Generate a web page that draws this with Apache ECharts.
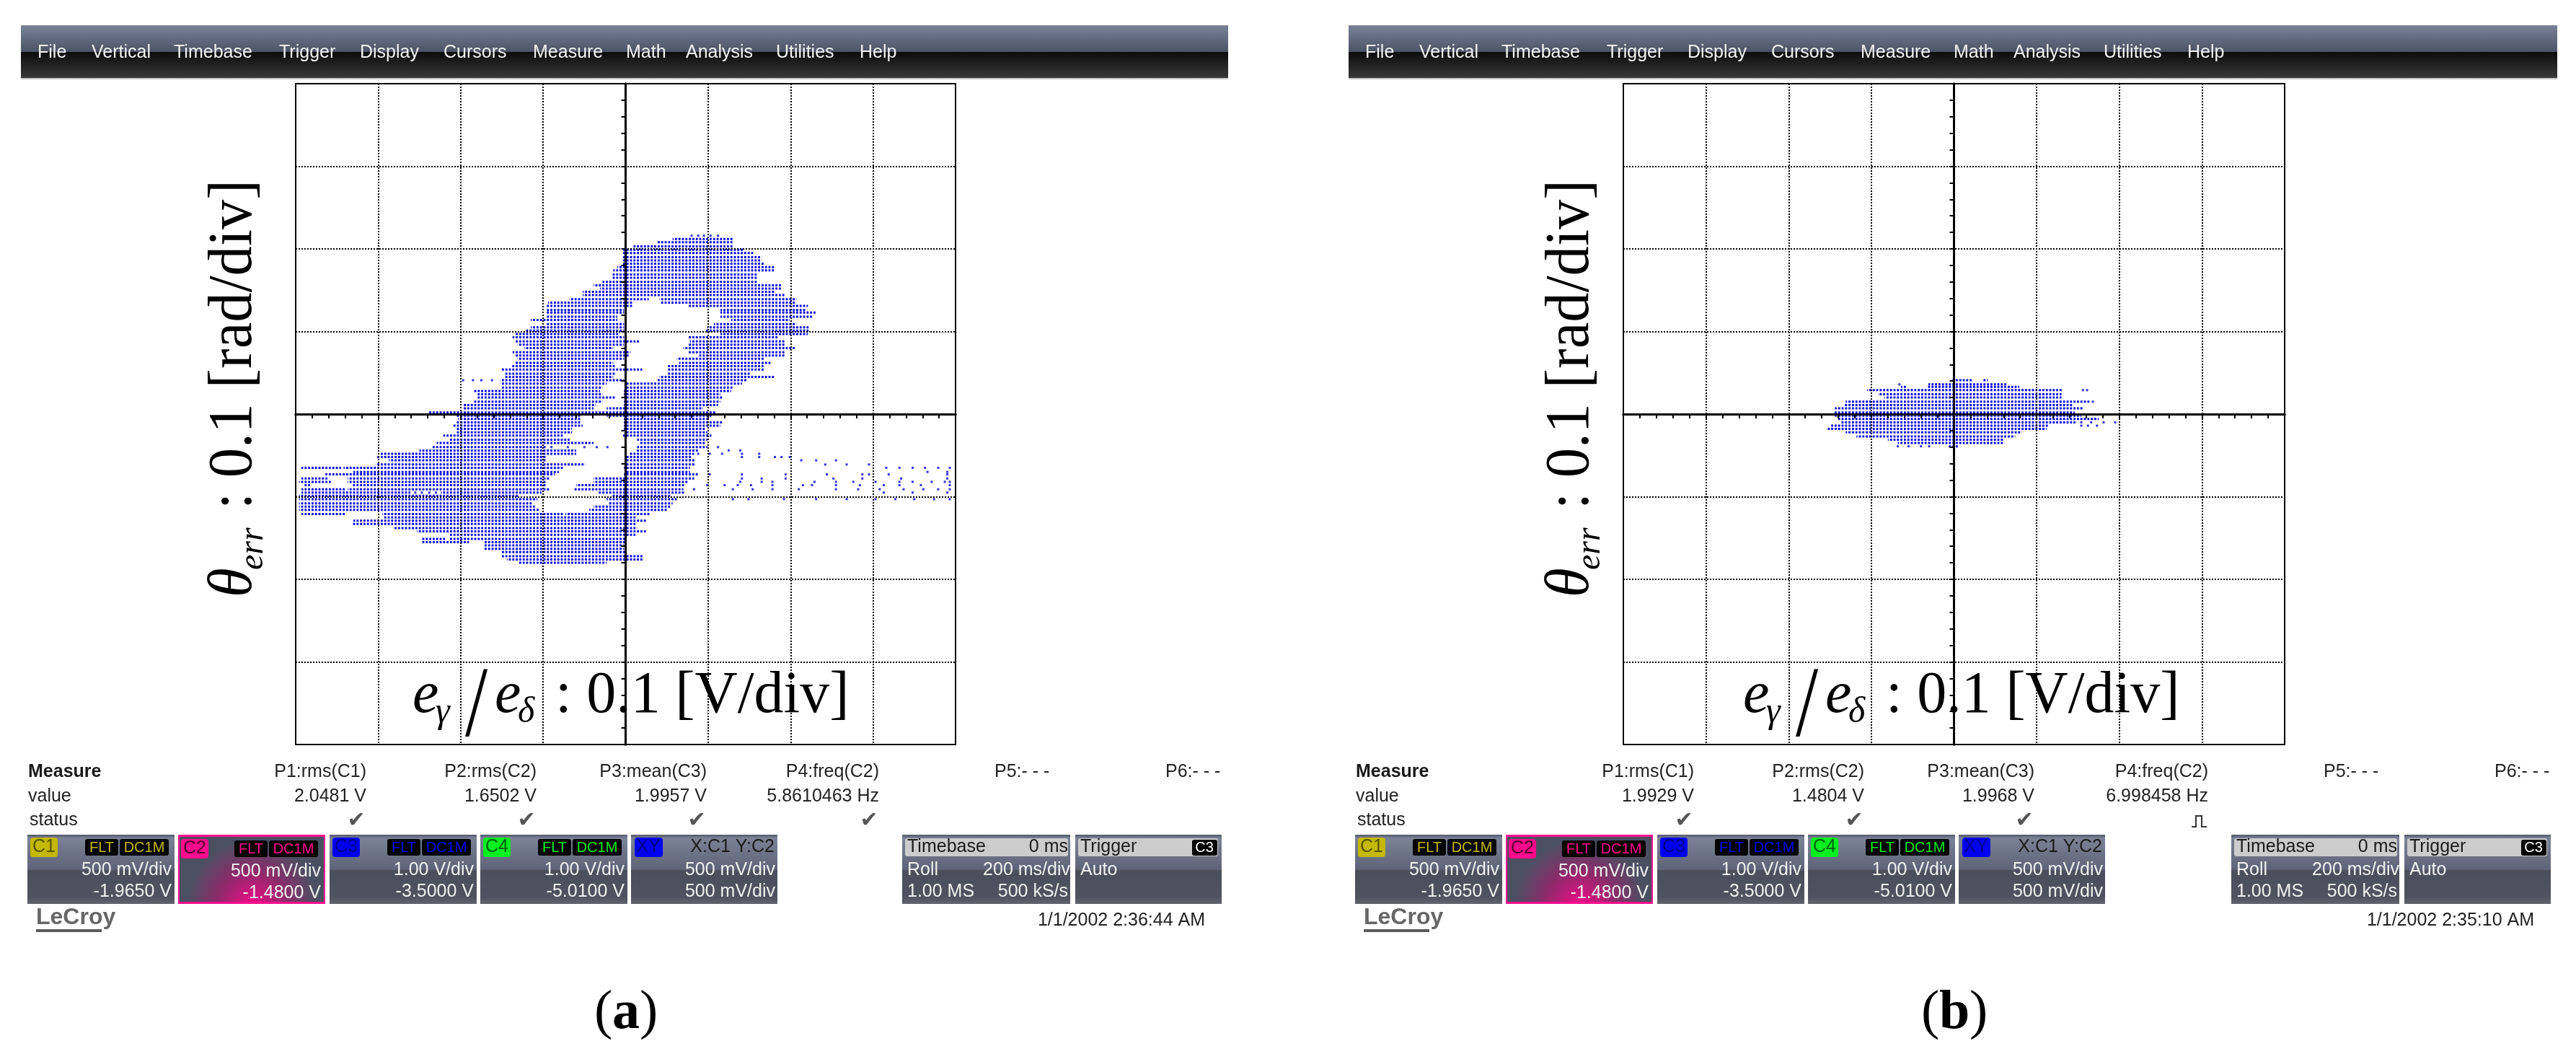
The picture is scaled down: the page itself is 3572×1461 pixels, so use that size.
<!DOCTYPE html>
<html>
<head>
<meta charset="utf-8">
<style>
html, body { margin: 0; padding: 0; background: #fff; }
#main { width: 3572px; height: 1461px; }
</style>
<script src="https://cdn.jsdelivr.net/npm/echarts@6/dist/echarts.min.js"></script>
</head>
<body>
<div id="main"></div>
<script>
// filled rows of the X-Y trace, [y, xStart, xEnd] in divisions
var rowsA = [
    [2.12, 0.57, 1.31], [2.08, 0.38, 1.31], [2.03, 0.09, 1.31], [1.99, -0.04, 1.44], [1.95, -0.04, 1.56],
    [1.90, -0.04, 1.65], [1.86, -0.04, 1.65], [1.82, -0.04, 1.69], [1.78, -0.10, 1.81], [1.74, -0.15, 1.81],
    [1.69, -0.16, 1.60], [1.65, -0.17, 1.60], [1.60, -0.28, 1.60], [1.56, -0.39, 1.89], [1.52, -0.31, 1.89],
    [1.48, -0.52, 1.81], [1.44, -0.52, 1.94], [1.39, -0.68, 0.28], [1.39, 0.41, 2.07], [1.35, -0.94, 0.09],
    [1.35, 0.43, 2.07], [1.31, -0.97, 0.09], [1.31, 0.75, 2.21], [1.26, -0.97, -0.02], [1.26, 1.15, 2.18],
    [1.23, -0.97, -0.02], [1.23, 1.15, 2.31], [1.18, -0.97, -0.10], [1.18, 1.15, 2.26], [1.14, -1.15, -0.10],
    [1.14, 1.28, 1.99], [1.09, -0.97, -0.02], [1.09, 1.07, 2.07], [1.05, -1.15, -0.02], [1.05, 0.99, 2.23],
    [1.01, -1.21, -0.02], [1.01, 0.96, 2.23], [0.97, -1.34, -0.07], [0.97, 1.15, 2.21], [0.93, -1.37, -0.02],
    [0.93, 0.75, 1.84], [0.88, -1.34, 0.17], [0.88, 0.78, 1.94], [0.84, -1.31, -0.02], [0.84, 0.75, 1.94],
    [0.80, -1.23, -0.15], [0.80, 0.70, 2.05], [0.75, -1.37, 0.06], [0.75, 0.75, 1.94], [0.71, -1.34, 0.04],
    [0.71, 0.88, 1.94], [0.67, -1.31, -0.02], [0.67, 0.62, 1.68], [0.62, -1.34, -0.15], [0.62, 0.65, 1.76],
    [0.58, -1.39, -0.12], [0.58, 0.51, 1.68], [0.54, -1.50, 0.20], [0.54, 0.51, 1.68], [0.49, -1.47, -0.12],
    [0.49, 0.51, 1.52], [0.45, -1.47, -0.15], [0.45, 0.41, 1.81], [0.41, -1.52, -0.02], [0.41, 0.38, 1.47],
    [0.37, -1.52, -0.23], [0.37, 0.01, 1.41], [0.32, -1.50, -0.28], [0.32, 0.01, 1.30], [0.28, -1.84, -0.31],
    [0.28, -0.02, 1.28], [0.24, -1.81, -0.28], [0.24, -0.02, 1.15], [0.20, -1.81, -0.12], [0.20, -0.02, 1.17],
    [0.15, -1.84, -0.28], [0.15, -0.02, 1.15], [0.11, -1.97, -0.36], [0.11, -0.02, 1.12], [0.07, -1.97, -0.39],
    [0.07, -0.23, 0.94], [0.02, -2.40, 1.10], [-0.02, -2.05, -0.54], [-0.02, -0.23, 1.04], [-0.06, -2.03, -0.54],
    [-0.06, -0.02, 0.99], [-0.10, -2.05, -0.54], [-0.10, -0.02, 1.17], [-0.14, -2.09, -0.52], [-0.14, -0.02, 1.15],
    [-0.18, -2.05, -0.65], [-0.18, -0.02, 0.96], [-0.22, -2.05, -0.65], [-0.22, 0.01, 0.99], [-0.26, -2.21, -0.76],
    [-0.26, -0.04, 1.04], [-0.31, -2.13, -0.68], [-0.31, 0.14, 0.99], [-0.35, -2.29, -0.39], [-0.35, 0.17, 0.96],
    [-0.40, -2.34, -0.97], [-0.40, 0.14, 0.99], [-0.44, -2.50, -0.60], [-0.44, 0.12, 0.88], [-0.48, -2.98, -0.60],
    [-0.48, 0.04, 0.83], [-0.52, -3.01, -0.97], [-0.52, 0.01, 0.80], [-0.56, -2.87, -0.97], [-0.56, 0.01, 0.85],
    [-0.61, -3.03, -0.49], [-0.61, 0.01, 0.85], [-0.65, -3.93, -3.45], [-0.65, -3.42, -0.76], [-0.65, -0.02, 0.78],
    [-0.70, -3.30, -0.81], [-0.70, 0.01, 0.78], [-0.73, -3.64, -0.86], [-0.73, -0.02, 0.88], [-0.78, -3.93, -3.61],
    [-0.78, -3.37, -0.92], [-0.78, -0.39, 0.83], [-0.82, -3.96, -3.56], [-0.82, -3.37, -0.97], [-0.82, -0.39, 0.75],
    [-0.86, -3.90, -3.82], [-0.86, -3.32, -0.97], [-0.86, -0.60, 0.72], [-0.91, -3.93, -3.40], [-0.91, -3.37, -0.92],
    [-0.91, -0.62, 0.70], [-0.95, -3.93, -2.61], [-0.95, -2.24, -1.02], [-0.95, -0.33, 0.72], [-0.99, -3.96, -1.29],
    [-0.99, -0.17, 0.54], [-1.03, -3.96, -1.07], [-1.03, -0.23, 0.62], [-1.08, -3.96, -1.13], [-1.08, -0.20, 0.57],
    [-1.12, -3.96, -1.10], [-1.12, -0.39, 0.54], [-1.16, -3.96, -1.05], [-1.16, -0.44, 0.51], [-1.21, -3.93, -3.40],
    [-1.21, -2.95, -0.76], [-1.21, -0.73, 0.30], [-1.25, -2.93, 0.14], [-1.29, -3.30, 0.25], [-1.33, -3.32, 0.12],
    [-1.38, -2.82, 0.14], [-1.42, -2.53, 0.25], [-1.46, -2.13, 0.12], [-1.51, -2.48, -2.19], [-1.51, -2.13, 0.01],
    [-1.55, -2.48, -1.90], [-1.55, -1.71, 0.01], [-1.59, -1.71, -0.02], [-1.63, -1.71, -0.02], [-1.67, -1.50, 0.01],
    [-1.72, -1.50, 0.22], [-1.76, -1.44, 0.22], [-1.80, -1.29, -0.23]
];
var rowsB = [
    [0.41, -0.03, 0.23], [0.41, 0.35, 0.41], [0.36, -0.31, 0.64], [0.33, -0.64, -0.58], [0.33, -0.33, 0.79],
    [0.29, -1.05, 1.31], [0.24, -0.92, 1.30], [0.20, -0.84, 1.30], [0.15, -1.31, 1.64], [0.11, -1.32, 1.43],
    [0.07, -1.44, 1.56], [0.02, -1.46, 1.46], [-0.02, -1.44, 1.54], [-0.06, -1.40, 1.75], [-0.10, -1.37, 1.48],
    [-0.14, -1.50, 1.15], [-0.18, -1.53, 1.12], [-0.22, -1.31, 0.82], [-0.27, -1.18, 0.74], [-0.31, -0.80, 0.61],
    [-0.35, -0.68, 0.61], [-0.39, -0.07, 0.06]
];
// single stray samples, [x, y] in divisions
var strayA = [
    [0.80, 2.16], [0.88, 2.16], [0.95, 2.16], [1.03, 2.16], [1.12, 2.16], [-1.97, 0.41], [-1.85, 0.41], [-1.75, 0.41], [-1.62, 0.41],
    [-2.55, -0.95], [-2.47, -0.95], [-2.38, -0.95], [-2.30, -0.95],
    [-0.90, -0.40], [-0.70, -0.40], [-0.50, -0.40], [-0.35, -0.40], [-0.22, -0.40],
    [1.12, -0.40], [1.25, -0.44], [1.39, -0.44], [0.88, -0.48], [1.02, -0.48], [1.17, -0.48], [1.41, -0.48], [1.62, -0.48],
    [1.41, -0.52], [1.62, -0.52], [1.81, -0.52], [1.89, -0.52], [1.99, -0.52], [2.13, -0.56], [2.31, -0.56], [2.55, -0.56],
    [2.42, -0.61], [2.68, -0.61], [2.95, -0.61], [3.16, -0.65], [3.32, -0.65], [3.48, -0.65], [3.63, -0.65], [3.79, -0.65], [3.93, -0.65],
    [3.66, -0.70], [3.90, -0.70], [1.02, -0.73], [1.41, -0.73], [1.94, -0.73], [2.44, -0.73], [2.87, -0.73], [2.95, -0.73], [3.19, -0.73], [3.90, -0.73],
    [1.41, -0.78], [1.65, -0.78], [1.94, -0.78], [2.52, -0.78], [2.87, -0.78], [3.34, -0.78], [3.90, -0.78],
    [1.39, -0.82], [1.65, -0.82], [1.78, -0.82], [2.29, -0.82], [2.55, -0.82], [2.76, -0.82], [3.03, -0.82], [3.32, -0.82], [3.48, -0.82], [3.71, -0.82], [3.87, -0.82], [3.93, -0.82],
    [0.99, -0.86], [1.20, -0.86], [1.36, -0.86], [1.52, -0.86], [1.78, -0.86], [2.15, -0.86], [2.26, -0.86], [2.55, -0.86], [2.84, -0.86], [3.13, -0.86], [3.32, -0.86], [3.58, -0.86], [3.93, -0.86],
    [0.83, -0.91], [1.30, -0.91], [1.54, -0.91], [1.78, -0.91], [2.10, -0.91], [2.55, -0.91], [2.82, -0.91], [3.08, -0.91], [3.37, -0.91], [3.61, -0.91], [3.79, -0.91], [3.93, -0.91],
    [3.13, -0.95], [3.48, -0.95], [3.90, -0.95],
    [1.30, -1.03], [1.49, -1.03], [1.92, -1.03], [2.31, -1.03], [2.68, -1.03], [3.03, -1.03], [3.27, -1.03], [3.50, -1.03], [3.74, -1.03], [3.93, -1.03]
];
var strayB = [
    [-0.66, 0.36], [1.56, 0.29], [1.61, 0.29], [1.68, 0.15], [1.54, -0.10], [1.66, -0.10], [1.81, -0.10], [1.95, -0.10],
    [1.54, -0.14], [1.62, -0.14], [1.73, -0.14], [-0.68, -0.39], [-0.55, -0.39], [-0.40, -0.39], [-0.30, -0.39]
];

var menuItems = ['File', 'Vertical', 'Timebase', 'Trigger', 'Display', 'Cursors', 'Measure', 'Math', 'Analysis', 'Utilities', 'Help'];
var menuX = [52, 127, 241, 387, 499, 615, 739, 868, 951, 1076, 1192];
var measureNames = ['P1:rms(C1)', 'P2:rms(C2)', 'P3:mean(C3)', 'P4:freq(C2)'];
var measureRight = [508, 744, 980, 1219];
var valuesA = ['2.0481 V', '1.6502 V', '1.9957 V', '5.8610463 Hz'];
var valuesB = ['1.9929 V', '1.4804 V', '1.9968 V', '6.998458 Hz'];
var channelNames = ['C1', 'C2', 'C3', 'C4'];
var channelScale = ['500 mV/div', '500 mV/div', '1.00 V/div', '1.00 V/div'];
var channelOffset = ['-1.9650 V', '-1.4800 V', '-3.5000 V', '-5.0100 V'];
var channelColor = ['#c4b800', '#ff0a8c', '#0000f0', '#00f020'];
var badgeTextColor = ['#5a5200', '#600030', '#000090', '#006010'];
var channelLeft = [38, 247, 457, 666];

var SANS = '"Liberation Sans", Arial, sans-serif';
var SERIF = '"Liberation Serif", "Times New Roman", serif';

function txt(x, y, text, size, fill, align, extra) {
    return {
        type: 'text', x: x, y: y, z: 10, silent: true,
        rotation: (extra && extra.rotation) || 0,
        scaleX: (extra && extra.scaleX) || 1,
        style: {
            text: text,
            fill: fill,
            font: ((extra && extra.style) || '') + ' ' + size + 'px ' + ((extra && extra.family) || SANS),
            textAlign: align || 'left',
            textVerticalAlign: 'middle'
        }
    };
}

// serif caption text placed by its baseline, upright or running upward
function cap(x, base, text, size, style, rotated, scaleX) {
    var up = 0.25 * size;
    return txt(rotated ? base - up : x, rotated ? x : base - up, text, size, '#000', 'left', {
        family: SERIF, style: style || '', rotation: rotated ? Math.PI / 2 : 0, scaleX: scaleX
    });
}

function box(x, y, w, h, fill, r, z) {
    return {
        type: 'rect', z: z || 5, silent: true,
        shape: { x: x, y: y, width: w, height: h, r: r || 0 },
        style: { fill: fill }
    };
}

function vGrad(stops) {
    return new echarts.graphic.LinearGradient(0, 0, 0, 1, stops.map(function (s) {
        return { offset: s[0], color: s[1] };
    }));
}

function panelFill() {
    return vGrad([[0, '#53586a'], [0.05, '#7b8296'], [0.5, '#5f6478'], [0.52, '#4b4e5b'], [0.9, '#50535f'], [1, '#62656f']]);
}

function scope(dx, dRight, values, date, lastStatusIsPulse) {
    var g = [];
    // menu bar
    g.push(box(dx + 29, 35, 1674 + (dRight - dx), 37, vGrad([[0, '#7a8299'], [1, '#4c5366']])));
    g.push(box(dx + 29, 72, 1674 + (dRight - dx), 37, vGrad([[0, '#0c0c0c'], [1, '#3a3a3a']])));
    g.push(box(dx + 29, 108, 1674 + (dRight - dx), 2, '#c4c4c4'));
    for (var i = 0; i < menuItems.length; i++) {
        g.push(txt(dx + menuX[i], 73, menuItems[i], 25, '#f2f2f2'));
    }
    // measure table
    g.push(txt(dx + 39, 1070, 'Measure', 25, '#1a1a1a', 'left', { style: 'bold' }));
    g.push(txt(dx + 39, 1104, 'value', 25, '#222'));
    g.push(txt(dx + 41, 1137, 'status', 25, '#222'));
    for (i = 0; i < measureNames.length; i++) {
        var mx = (i === 3 ? dRight : dx) + measureRight[i];
        g.push(txt(mx, 1070, measureNames[i], 25, '#222', 'right'));
        g.push(txt(mx, 1104, values[i], 25, '#222', 'right'));
        if (i === 3 && lastStatusIsPulse) {
            g.push({
                type: 'polyline', z: 10, silent: true,
                shape: { points: [[mx - 23, 1146], [mx - 17, 1146], [mx - 17, 1131], [mx - 9, 1131], [mx - 9, 1146], [mx - 2, 1146]] },
                style: { stroke: '#333', lineWidth: 2, fill: null }
            });
        } else {
            g.push(txt(mx - 14, 1138, '\u2714', 30, '#555', 'center', { family: '"DejaVu Sans"' }));
        }
    }
    g.push(txt(dRight + 1379, 1070, 'P5:- - -', 25, '#222'));
    g.push(txt(dRight + 1616, 1070, 'P6:- - -', 25, '#222'));

    // channel boxes
    for (i = 0; i < 4; i++) {
        var left = dx + channelLeft[i];
        var active = i === 1;
        var shift = active ? 2 : 0;
        if (active) {
            g.push(box(left, 1157, 204, 96, '#ff1090'));
            g.push({
                type: 'rect', z: 5, silent: true,
                shape: { x: left + 2, y: 1160, width: 200, height: 90 },
                style: {
                    fill: new echarts.graphic.RadialGradient(0.5, 1.05, 1, [
                        { offset: 0, color: '#f00a86' }, { offset: 0.55, color: '#8a2c6a' }, { offset: 1, color: '#4a5062' }
                    ])
                }
            });
        } else {
            g.push(box(left, 1157, 204, 96, panelFill()));
        }
        g.push(box(left + 4, 1161 + shift, 38, 27, channelColor[i], 4, 6));
        g.push(txt(left + 23, 1174 + shift, channelNames[i], 25, badgeTextColor[i], 'center', { }));
        g.push(box(left + 80 - shift, 1163 + shift, 46, 23, '#050505', 3, 6));
        g.push(box(left + 128 - shift, 1163 + shift, 68, 23, '#050505', 3, 6));
        g.push(txt(left + 103 - shift, 1175 + shift, 'FLT', 20, channelColor[i], 'center'));
        g.push(txt(left + 162 - shift, 1175 + shift, 'DC1M', 20, channelColor[i], 'center'));
        g.push(txt(left + 200 - shift, 1206 + shift, channelScale[i], 25, '#f0f0f0', 'right'));
        g.push(txt(left + 200 - shift, 1236 + shift, channelOffset[i], 25, '#f0f0f0', 'right'));
    }
    // XY box
    g.push(box(dx + 875, 1157, 203, 96, panelFill()));
    g.push(box(dx + 880, 1161, 39, 27, '#0000f0', 4, 6));
    g.push(txt(dx + 899, 1174, 'XY', 25, '#000090', 'center'));
    g.push(txt(dx + 1074, 1174, 'X:C1 Y:C2', 25, '#1a1a1a', 'right'));
    g.push(txt(dx + 1075, 1206, '500 mV/div', 25, '#f0f0f0', 'right'));
    g.push(txt(dx + 1075, 1236, '500 mV/div', 25, '#f0f0f0', 'right'));
    // timebase and trigger
    g.push(box(dRight + 1251, 1157, 233, 96, panelFill()));
    g.push(box(dRight + 1255, 1162, 226, 25, '#cccccc', 3, 6));
    g.push(txt(dRight + 1258, 1174, 'Timebase', 25, '#1a1a1a'));
    g.push(txt(dRight + 1481, 1174, '0 ms', 25, '#1a1a1a', 'right'));
    g.push(txt(dRight + 1258, 1206, 'Roll', 25, '#f0f0f0'));
    g.push(txt(dRight + 1484, 1206, '200 ms/div', 25, '#f0f0f0', 'right'));
    g.push(txt(dRight + 1258, 1236, '1.00 MS', 25, '#f0f0f0'));
    g.push(txt(dRight + 1481, 1236, '500 kS/s', 25, '#f0f0f0', 'right'));
    g.push(box(dRight + 1491, 1157, 203, 96, panelFill()));
    g.push(box(dRight + 1495, 1162, 194, 25, '#cccccc', 3, 6));
    g.push(txt(dRight + 1498, 1174, 'Trigger', 25, '#1a1a1a'));
    g.push(box(dRight + 1653, 1164, 35, 22, '#000', 3, 7));
    g.push(txt(dRight + 1670, 1175, 'C3', 20, '#fff', 'center'));
    g.push(txt(dRight + 1498, 1206, 'Auto', 25, '#f0f0f0'));
    // logo and date
    g.push(txt(dx + 50, 1272, 'LeCroy', 32, '#666', 'left', { style: 'bold' }));
    g.push(box(dx + 50, 1288, 91, 4, '#5a5a5a'));
    g.push(txt(dRight + 1671, 1276, date, 25, '#222', 'right'));
    return g;
}

// theta_err label running up the left of the plot, e_gamma/e_delta label inside it
function axisCaptions(dy, dx) {
    var g = [];
    var base = 986;
    g.push(cap(828, dy + 347, '\u03b8', 87, 'italic', true, 0.95));
    g.push(cap(790, dy + 363, 'err', 48, 'italic', true));
    g.push(cap(706, dy + 347, ': 0.1 [rad/div]', 87, '', true, 0.95));
    g.push(cap(dx + 572, base, 'e', 82, 'italic'));
    g.push(cap(dx + 604, base + 14, '\u03b3', 50, 'italic'));
    g.push(cap(dx + 645, base + 32, '/', 140, '', false, 0.8));
    g.push(cap(dx + 686, base, 'e', 82, 'italic'));
    g.push(cap(dx + 718, base + 14, '\u03b4', 50, 'italic'));
    g.push(cap(dx + 770, base, ': 0.1 [V/div]', 82, ''));
    return g;
}

// bold letter between plain brackets
function partLabel(x, letter, width) {
    var base = 1424;
    return [
        cap(x, base, '(', 76, ''),
        cap(x + 25, base, letter, 76, 'bold'),
        cap(x + 25 + width, base, ')', 76, '')
    ];
}

function axisPair(gridIndex, inside, pos) {
    return {
        gridIndex: gridIndex, type: 'value', min: -4, max: 4, interval: 1, position: pos, z: 6,
        axisLine: { show: true, onZero: true, onZeroAxisIndex: gridIndex * 2 + (inside ? 1 : 0), lineStyle: { color: '#000', width: 3 } },
        axisTick: { show: true, inside: inside, length: 6, lineStyle: { color: '#000', width: 2 } },
        minorTick: { show: true, splitNumber: 5, length: 6, lineStyle: { color: '#000', width: 2 } },
        axisLabel: { show: false },
        splitLine: { show: !inside, lineStyle: { color: '#000', width: 2, type: [2, 2] } },
        minorSplitLine: { show: false }
    };
}

function rowSeries(index, rows) {
    return {
        type: 'custom', xAxisIndex: index * 2, yAxisIndex: index * 2, silent: true, z: 3,
        encode: { x: [1, 2], y: 0 },
        renderItem: function (params, api) {
            var a = api.coord([api.value(1), api.value(0)]);
            var b = api.coord([api.value(2), api.value(0)]);
            return {
                type: 'line',
                shape: { x1: a[0], y1: a[1], x2: b[0], y2: b[1] },
                style: { stroke: '#0000e0', lineWidth: 3, lineDash: [2.8, 2], lineDashOffset: a[0] % 4.8 }
            };
        },
        data: rows
    };
}

function straySeries(index, dots) {
    return {
        type: 'scatter', xAxisIndex: index * 2, yAxisIndex: index * 2, silent: true, z: 3,
        symbol: 'rect', symbolSize: 3, itemStyle: { color: '#0000e0' },
        data: dots
    };
}

var chart = echarts.init(document.getElementById('main'), null, { renderer: 'canvas' });
var option = {
    animation: false,
    backgroundColor: '#fff',
    grid: [
        { left: 410, top: 116, width: 915, height: 916, show: true, borderColor: '#000', borderWidth: 2, backgroundColor: 'transparent' },
        { left: 2251, top: 116, width: 917, height: 916, show: true, borderColor: '#000', borderWidth: 2, backgroundColor: 'transparent' }
    ],
    xAxis: [axisPair(0, false, 'bottom'), axisPair(0, true, 'top'), axisPair(1, false, 'bottom'), axisPair(1, true, 'top')],
    yAxis: [axisPair(0, false, 'left'), axisPair(0, true, 'right'), axisPair(1, false, 'left'), axisPair(1, true, 'right')],
    series: [rowSeries(0, rowsA), straySeries(0, strayA), rowSeries(1, rowsB), straySeries(1, strayB)],
    graphic: {
        elements: [].concat(
            scope(0, 0, valuesA, '1/1/2002 2:36:44 AM', false),
            scope(1841, 1843, valuesB, '1/1/2002 2:35:10 AM', true),
            axisCaptions(0, 0),
            axisCaptions(1854, 1845),
            partLabel(824, 'a', 38),
            partLabel(2664, 'b', 42)
        )
    }
};
chart.setOption(option);
</script>
</body>
</html>
